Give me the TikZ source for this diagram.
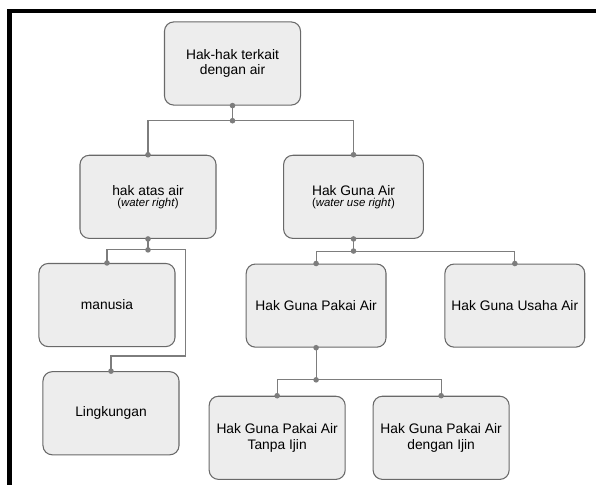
\documentclass[tikz,border=0pt]{standalone}
\usepackage{fontspec}
\setmainfont{Liberation Sans}
\usetikzlibrary{positioning}
\definecolor{boxfill}{RGB}{237,237,237}
\definecolor{boxline}{RGB}{105,105,105}
\definecolor{linkgray}{RGB}{125,125,125}

\begin{document}
\begin{tikzpicture}[
    node distance=0.635cm,
    box/.style={rectangle, rounded corners=7pt, draw=boxline, fill=boxfill, line width=0.8pt,
                minimum width=#1, minimum height=2.2cm, align=center,
                font=\fontsize{10.4}{11.5}\selectfont},
    box/.default=3.6cm,
    link/.style={draw=linkgray, line width=0.8pt},
    frame/.style={line width=3.4pt, line join=miter}
]
% Bounding box and frame
\coordinate (tl) at (-6.152,1.680);
\coordinate (br) at (9.618,-11.153);
\path[use as bounding box] (tl) rectangle (br);
\coordinate (ftr) at (9.618,1.389);
\coordinate (ftl) at (-5.901,1.389);
\coordinate (fbl) at (-5.901,-11.153);
\draw[frame] (ftr) -- (ftl) -- (fbl);

% Top
\node[box] (root) {Hak-hak terkait\\dengan air};

% Second level
\node[box, below=1.3cm of root, xshift=-2.236cm] (atas)
    {hak atas air\\[-3pt]{\fontsize{8.6}{10}\selectfont(\textit{water right})}};
\node[box=3.7cm, right=1.76cm of atas] (guna)
    {Hak Guna Air\\[-3pt]{\fontsize{8.6}{10}\selectfont(\textit{water use right})}};

% Under hak atas air
\node[box, below=of atas, xshift=-1.085cm] (manusia) {manusia};
\node[box, below=of manusia, xshift=0.106cm] (lingk) {Lingkungan};

% Under Hak Guna Air
\node[box=3.7cm, below=0.65cm of guna, xshift=-0.99cm] (pakai) {Hak Guna Pakai Air};
\node[box=3.7cm, right=1.53cm of pakai] (usaha) {Hak Guna Usaha Air};

% Under Hak Guna Pakai Air
\node[box, below=1.27cm of pakai, xshift=-1.03cm] (tanpa) {Hak Guna Pakai Air\\Tanpa Ijin};
\node[box, right=0.71cm of tanpa] (dengan) {Hak Guna Pakai Air\\dengan Ijin};

% Junctions
\coordinate[below=0.4cm of root.south] (j0);
\coordinate[below=0.29cm of atas.south] (j1);
\coordinate[below=0.32cm of guna.south] (j2);
\coordinate[below=0.85cm of pakai.south] (j3);
\coordinate[right=0.265cm of manusia.east] (mr);
\coordinate[above=0.4cm of lingk.north] (lk);

% Connectors
\draw[link] (root.south) -- (j0);
\draw[link] (j0) -| (atas.north);
\draw[link] (j0) -| (guna.north);
\draw[link] (atas.south) -- (j1);
\draw[link] (j1) -| (manusia.north);
\draw[link] (j1) -- (j1 -| mr) |- (lk) -- (lingk.north);
\draw[link] (guna.south) -- (j2);
\draw[link] (j2) -| (pakai.north);
\draw[link] (j2) -| (usaha.north);
\draw[link] (pakai.south) -- (j3);
\draw[link] (j3) -| (tanpa.north);
\draw[link] (j3) -| (dengan.north);

% Dots
\foreach \p in {root.south, j0, atas.north, guna.north, atas.south, j1, manusia.north,
                lingk.north, guna.south, j2, pakai.north, usaha.north, pakai.south, j3,
                tanpa.north, dengan.north}
    \fill[linkgray] (\p) circle (2.1pt);
\end{tikzpicture}
\end{document}
